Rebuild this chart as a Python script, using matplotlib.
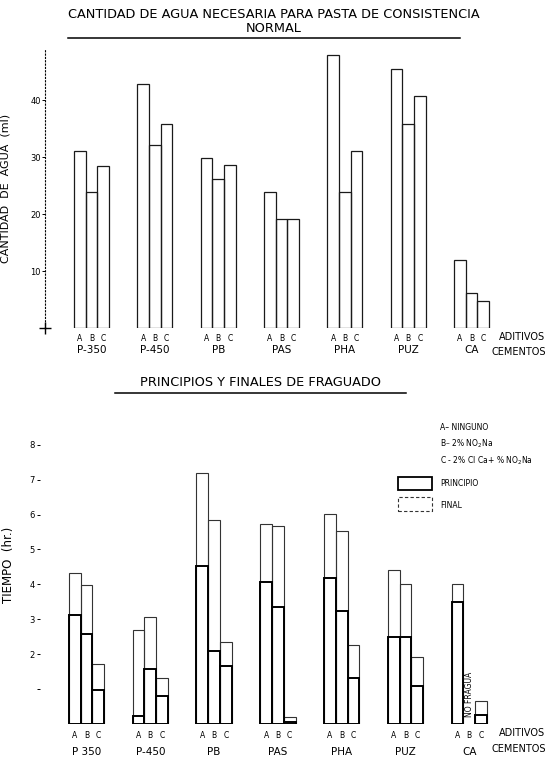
import numpy as np
import matplotlib.pyplot as plt
from matplotlib.patches import Rectangle
from matplotlib.lines import Line2D

plt.rcParams['font.family'] = ['DejaVu Sans']

# datos
cementos = ["P-350", "P-450", "PB", "PAS", "PHA", "PUZ", "CA"]
cementos_fraguado = ["P 350", "P-450", "PB", "PAS", "PHA", "PUZ", "CA"]
aditivos = ["A", "B", "C"]

# cantidad de agua (ml) por aditivo
agua_a = [31.0, 42.9, 29.9, 23.9, 47.9, 45.5, 11.9]
agua_b = [23.8, 32.1, 26.2, 19.1, 23.9, 35.8, 6.1]
agua_c = [28.4, 35.9, 28.7, 19.1, 31.1, 40.8, 4.7]

# tiempos de fraguado (hr), nan = no fragua
principio_a = [3.13, 0.23, 4.53, 4.08, 4.18, 2.50, 3.50]
principio_b = [2.57, 1.59, 2.10, 3.34, 3.25, 2.50, np.nan]
principio_c = [0.98, 0.81, 1.67, 0.07, 1.33, 1.09, 0.26]
final_a = [4.32, 2.68, 7.19, 5.73, 6.02, 4.42, 4.02]
final_b = [3.99, 3.06, 5.85, 5.66, 5.52, 4.01, np.nan]
final_c = [1.72, 1.31, 2.35, 0.19, 2.27, 1.91, 0.67]

leyenda_aditivos = ["A\u2013 NINGUNO", "B\u2013 2% NO$_2$Na", "C - 2% Cl Ca+ % NO$_2$Na"]

W, H = 549, 760
w = 0.184  # ancho de barra (en unidades de grupo)


def fx(px):
    return px / W


def fy(py):
    return 1 - py / H


fig = plt.figure(figsize=(W / 100, H / 100), dpi=100)
fig.patch.set_facecolor("white")

x = np.arange(len(cementos))
offsets = [-w, 0, w]

# ---------------- grafico superior ----------------
ax1 = fig.add_axes([fx(45), fy(328), fx(490), 279 / H])
for off, vals in zip(offsets, [agua_a, agua_b, agua_c]):
    ax1.bar(x + off, vals, width=w, fill=False, edgecolor="#1a1a1a", linewidth=0.9)
ax1.set_xlim(-0.735, 7.0)
ax1.set_ylim(0, 49)
for s in ["top", "right", "bottom"]:
    ax1.spines[s].set_visible(False)
ax1.spines["left"].set_linestyle((0, (1, 2)))
ax1.spines["left"].set_linewidth(0.8)
ax1.spines["left"].set_bounds(0, 49)
ax1.plot([-0.735], [0], marker="+", color="black", markersize=9, mew=1.0, clip_on=False)
ax1.set_yticks([10, 20, 30, 40])
ax1.set_yticklabels(["10", "20", "30", "40"], fontsize=6)
ax1.tick_params(axis="y", direction="out", length=2, width=0.7, pad=1)
ticks = np.concatenate([x + off for off in offsets])
ax1.set_xticks(ticks)
ax1.set_xticklabels([a for a in aditivos for _ in x], fontsize=5.5)
ax1.tick_params(axis="x", length=0, pad=4)
ax1.set_ylabel("CANTIDAD  DE  AGUA  (ml)", fontsize=8, labelpad=14)
for i, name in enumerate(cementos):
    ax1.annotate(name, xy=(i, 0), xycoords=("data", "axes fraction"),
                 xytext=(0, -16), textcoords="offset points",
                 ha="center", va="center", fontsize=7.5)

fig.text(fx(274), fy(15), "CANTIDAD DE AGUA NECESARIA PARA PASTA DE CONSISTENCIA",
         ha="center", va="center", fontsize=9.3)
fig.text(fx(274), fy(29), "NORMAL", ha="center", va="center", fontsize=9.3)
fig.add_artist(Line2D([fx(68), fx(460)], [fy(38), fy(38)], color="black", lw=1.1))
fig.text(fx(545), fy(337), "ADITIVOS", ha="right", va="center", fontsize=7)
fig.text(fx(546), fy(352), "CEMENTOS", ha="right", va="center", fontsize=7)

# ---------------- grafico inferior ----------------
ax2 = fig.add_axes([fx(40), fy(724), fx(495), 317.6 / H])
for off, fin in zip(offsets, [final_a, final_b, final_c]):
    ax2.bar(x + off, fin, width=w, fill=False, edgecolor="#333333", linewidth=0.8)
for off, pri in zip(offsets, [principio_a, principio_b, principio_c]):
    ax2.bar(x + off, pri, width=w, fill=False, edgecolor="black", linewidth=1.4)
for i in range(len(cementos)):
    for off, pri in zip(offsets, [principio_a, principio_b, principio_c]):
        if np.isnan(pri[i]):
            ax2.text(i + off, 0.2, "NO FRAGUA", rotation=90, ha="center", va="bottom",
                     fontsize=5.5)
ax2.set_xlim(-0.729, 7.03)
ax2.set_ylim(0, 9.1)
for s in ["top", "right", "bottom", "left"]:
    ax2.spines[s].set_visible(False)
ax2.set_yticks(range(1, 9))
ax2.set_yticklabels([""] + [str(v) for v in range(2, 9)], fontsize=6)
ax2.tick_params(axis="y", direction="out", length=2, width=0.7, pad=2)
ax2.set_xticks(ticks)
ax2.set_xticklabels([a for a in aditivos for _ in x], fontsize=5.5)
ax2.tick_params(axis="x", length=0, pad=5)
ax2.set_ylabel("TIEMPO  (hr.)", fontsize=8.5, labelpad=10)
for i, name in enumerate(cementos_fraguado):
    ax2.annotate(name, xy=(i, 0), xycoords=("data", "axes fraction"),
                 xytext=(0, -20), textcoords="offset points",
                 ha="center", va="center", fontsize=7.5)

fig.text(fx(260), fy(382), "PRINCIPIOS Y FINALES DE FRAGUADO",
         ha="center", va="center", fontsize=9.3)
fig.add_artist(Line2D([fx(115), fx(406)], [fy(393), fy(393)], color="black", lw=1.1))
fig.text(fx(545), fy(733), "ADITIVOS", ha="right", va="center", fontsize=7)
fig.text(fx(546), fy(749), "CEMENTOS", ha="right", va="center", fontsize=7)

for k, t in enumerate(leyenda_aditivos):
    fig.text(fx(440), fy(427 + 17 * k), t, ha="left", va="center", fontsize=5.5)
fig.add_artist(Rectangle((fx(398), fy(490)), fx(34), 13 / H, transform=fig.transFigure,
                         fill=False, edgecolor="black", lw=1.3))
fig.add_artist(Rectangle((fx(398), fy(511)), fx(34), 14 / H, transform=fig.transFigure,
                         fill=False, edgecolor="#333333", lw=0.8, ls=(0, (3, 2))))
fig.text(fx(440), fy(484), "PRINCIPIO", ha="left", va="center", fontsize=5.5)
fig.text(fx(440), fy(505), "FINAL", ha="left", va="center", fontsize=5.5)

fig.savefig("out.png", dpi=100, facecolor="white")
